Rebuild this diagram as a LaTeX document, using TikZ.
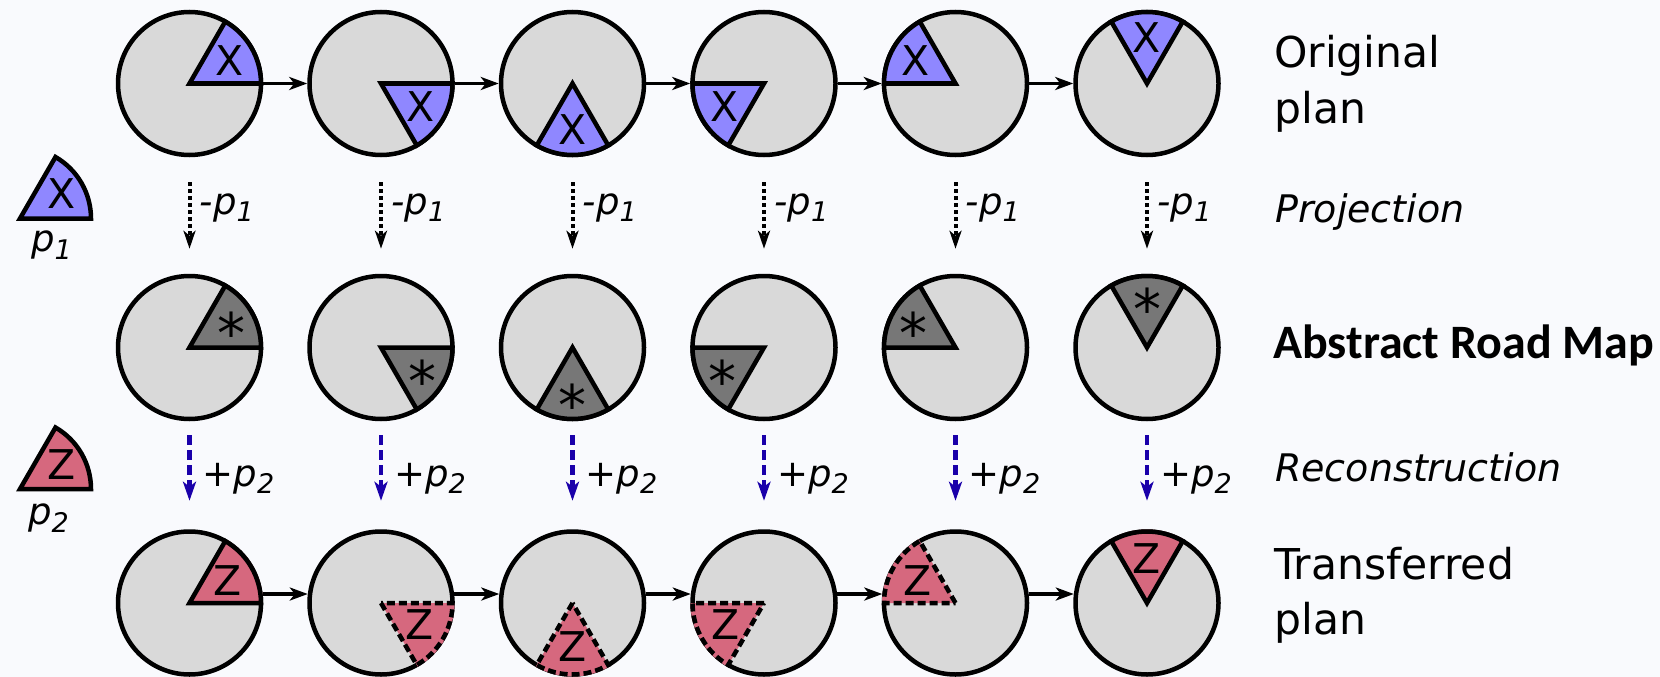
\documentclass[tikz,border=0pt]{standalone}
\usepackage{fontspec}
\setmainfont{DejaVu Sans}
\newfontfamily\roadfont{Carlito}
\usetikzlibrary{arrows.meta,calc}
\definecolor{bgc}{RGB}{249,250,253}
\definecolor{diskgray}{RGB}{217,217,217}
\definecolor{planx}{RGB}{143,135,255}
\definecolor{planz}{RGB}{214,104,126}
\definecolor{abstr}{RGB}{119,119,119}
\definecolor{recblue}{RGB}{26,0,170}
\newcommand\lowidx[2][7pt]{\raisebox{-#1}{\fontsize{27}{27}\selectfont #2}}
\begin{document}
\begin{tikzpicture}[x=1pt,y=1pt,
  disk/.style={circle,draw=black,fill=diskgray,line width=4.5pt,minimum size=143pt,inner sep=0pt},
  sect/.style={draw=black,line width=4.5pt,line join=miter},
  dsect/.style={draw=black,line width=4.5pt,dash pattern=on 8pt off 4pt},
  glyph/.style={inner sep=0pt,font=\fontsize{41}{41}\selectfont},
  star/.style={inner sep=0pt,font=\fontsize{56}{56}\selectfont,yshift=-9pt},
  flow/.style={line width=3.5pt,-{Stealth[length=18pt,width=13pt,inset=5pt]}},
  proj/.style={line width=4pt,dash pattern=on 4pt off 3pt,-{Stealth[length=18pt,width=12pt,inset=5pt]}},
  recon/.style={draw=recblue,line width=4.5pt,dash pattern=on 10pt off 5pt,-{Stealth[length=19pt,width=13pt,inset=5pt]}},
  oplab/.style={inner sep=0pt,anchor=base west,font=\fontsize{37}{37}\selectfont\itshape},
  rowlab/.style={inner sep=0pt,anchor=base west,align=left,font=\fontsize{42.5}{55}\selectfont},
  steplab/.style={inner sep=0pt,anchor=base west,font=\fontsize{38}{38}\selectfont\itshape},
]
\fill[bgc] (0,0) rectangle (1660,-677);
\useasboundingbox (0,0) rectangle (1660,-677);

% three rows of plan disks with their highlighted sector
\foreach \i/\a/\s in {1/0/sect,2/-60/dsect,3/-120/dsect,4/180/dsect,5/120/dsect,6/60/sect}{
  \pgfmathsetmacro\cx{189.5+191.5*(\i-1)}
  \pgfmathsetmacro\b{\a+60}
  \pgfmathsetmacro\m{\a+30}
  \node[disk] (t\i) at (\cx,-83.5) {};
  \node[disk] (m\i) at (\cx,-347.5) {};
  \node[disk] (b\i) at (\cx,-603) {};
  % original plan
  \filldraw[sect,fill=planx] (t\i.center) -- ++(\a:71.5) arc[start angle=\a,end angle=\b,radius=71.5] -- cycle;
  \node[glyph] (tx\i) at ($(t\i.center)+(\m:46)$) {X};
  % abstract road map
  \filldraw[sect,fill=abstr] (m\i.center) -- ++(\a:71.5) arc[start angle=\a,end angle=\b,radius=71.5] -- cycle;
  \node[star] (mx\i) at ($(m\i.center)+(\m:48)$) {*};
  % transferred plan
  \fill[planz] (b\i.center) -- ++(\a:73.5) arc[start angle=\a,end angle=\b,radius=73.5] -- cycle;
  \draw[\s] (b\i.center) -- ++(\a:71.5) arc[start angle=\a,end angle=\b,radius=71.5] -- cycle;
  \node[glyph] (bx\i) at ($(b\i.center)+(\m:44)$) {Z};
  % projection and reconstruction steps
  \draw[proj,shorten <=25pt,shorten >=25pt] (t\i.south) -- (m\i.north);
  \node[oplab] (pm\i) at (\cx+10,-214) {-p\lowidx{1}};
  \draw[recon,shorten <=14pt,shorten >=28.5pt] (m\i.south) -- (b\i.north);
  \node[oplab] (pp\i) at (\cx+13,-486) {+p\lowidx{2}};
}

% plan transitions
\foreach \i/\j in {1/2,2/3,3/4,4/5,5/6}{
  \draw[flow] (t\i.east) -- (t\j.west);
  \draw[flow] (b\i.7) -- (b\j.173);
}

% legend pieces p1 and p2
\coordinate (k1) at (20,-218.5);
\filldraw[sect,fill=planx] (k1) -- ++(0:71) arc[start angle=0,end angle=60,radius=71] -- cycle;
\node[glyph] (kx1) at ($(k1)+(31:49)$) {X};
\node[oplab] (kl1) at (31,-251) {p\lowidx[8pt]{1}};
\coordinate (k2) at (20,-489);
\filldraw[sect,fill=planz] (k2) -- ++(0:71) arc[start angle=0,end angle=60,radius=71] -- cycle;
\node[glyph] (kx2) at ($(k2)+(31:48)$) {Z};
\node[oplab] (kl2) at (28,-524) {p\lowidx[8pt]{2}};

% row captions (base anchor sits on the last line)
\node[rowlab] (r1) at (1274,-123) {Original\\plan};
\node[steplab] (r2) at (1275,-222) {Projection};
\node[inner sep=0pt,anchor=base west,font=\roadfont\bfseries\fontsize{48}{48}\selectfont] (r3) at (1273,-358) {Abstract Road Map};
\node[steplab] (r4) at (1275,-481) {Reconstruction};
\node[rowlab] (r5) at (1274,-634) {Transferred\\plan};
\end{tikzpicture}
\end{document}
